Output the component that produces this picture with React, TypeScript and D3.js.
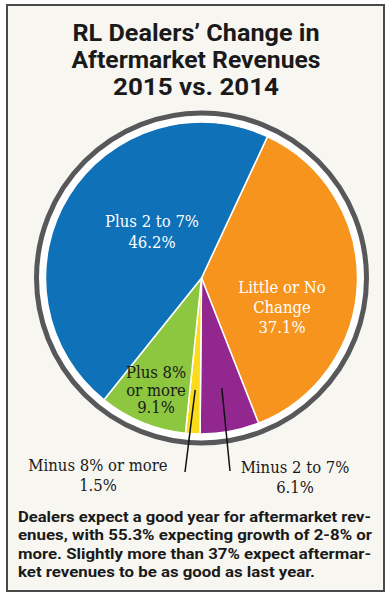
import React from "react";
import * as d3 from "d3";

const categories = ["Little or No Change", "Minus 2 to 7%", "Minus 8% or more", "Plus 8% or more", "Plus 2 to 7%"];
const values = [37.1, 6.1, 1.5, 9.1, 46.2];
const colors = ["#f7941d", "#92278f", "#fbdc1c", "#8dc63f", "#0f71b8"];
const labelNameLines = [["Little or No", "Change"], ["Minus 2 to 7%"], ["Minus 8% or more"], ["Plus 8%", "or more"], ["Plus 2 to 7%"]];
const titleLines = ["RL Dealers\u2019 Change in", "Aftermarket Revenues", "2015 vs. 2014"];
const captionLines = [
  "Dealers expect a good year for aftermarket rev-",
  "enues, with 55.3% expecting growth of 2-8% or",
  "more. Slightly more than 37% expect aftermar-",
  "ket revenues to be as good as last year.",
];

const W = 390;
const H = 600;
const cx = 201.5;
const cy = 278;
const R = 156;

// layout per slice (label anchor, line height, text colour, outside leader)
const labelLayout = [
  { x: 282, y: 293, lh: 20, fill: "#ffffff", leader: null },
  { x: 295, y: 473, lh: 20, fill: "#1a1a1a", leader: { x: 230, y: 471 } },
  { x: 98, y: 471, lh: 20, fill: "#1a1a1a", leader: { x: 185, y: 472 } },
  { x: 156, y: 378, lh: 17.5, fill: "#1a1a1a", leader: null },
  { x: 152, y: 227, lh: 21, fill: "#ffffff", leader: null },
];

const titleWidths = [247, 249, 166];
const captionWidths = [353, 354, 353, 297];

export default function App() {
  const pie = d3
    .pie<number>()
    .sort(null)
    .value((d) => d)
    .startAngle((25 * Math.PI) / 180)
    .endAngle((385 * Math.PI) / 180);
  const arcs = pie(values);
  const arc = d3.arc<d3.PieArcDatum<number>>().innerRadius(0).outerRadius(R);
  const serif = "'DejaVu Serif Condensed', 'DejaVu Serif', serif";
  const sans = "Roboto, 'Liberation Sans', sans-serif";

  return (
    <div style={{ position: "absolute", left: 0, top: 0 }}>
      <svg width={W} height={H} style={{ display: "block" }}>
        <rect x={0} y={0} width={W} height={H} fill="#ffffff" />
        <rect x={7} y={5} width={377} height={586} fill="#f7f6f1" stroke="#4a4a4a" strokeWidth={2} />
        {titleLines.map((t, i) => (
          <text
            key={i}
            x={196}
            y={41 + i * 27}
            textAnchor="middle"
            fontFamily={sans}
            fontWeight={700}
            fontSize={24.5}
            fill="#1a1a1a"
            textLength={titleWidths[i]}
            lengthAdjust="spacingAndGlyphs"
          >
            {t}
          </text>
        ))}
        <circle cx={cx} cy={cy} r={165} fill="#ffffff" stroke="#58585a" strokeWidth={5} />
        <g transform={`translate(${cx},${cy})`}>
          {arcs.map((a, i) => (
            <path key={i} d={arc(a) || ""} fill={colors[i]} stroke="#ffffff" strokeWidth={1.5} strokeLinejoin="round" />
          ))}
        </g>
        {arcs.map((a, i) => {
          const L = labelLayout[i];
          if (!L.leader) return null;
          const mid = (a.startAngle + a.endAngle) / 2;
          const r0 = 112;
          return (
            <line
              key={"l" + i}
              x1={cx + r0 * Math.sin(mid)}
              y1={cy - r0 * Math.cos(mid)}
              x2={L.leader.x}
              y2={L.leader.y}
              stroke="#111"
              strokeWidth={1.5}
            />
          );
        })}
        {arcs.map((a, i) => {
          const L = labelLayout[i];
          const lines = [...labelNameLines[i], `${values[i].toFixed(1)}%`];
          return (
            <text key={"t" + i} textAnchor="middle" fontFamily={serif} fontSize={16.5} fill={L.fill}>
              {lines.map((s, j) => (
                <tspan key={j} x={L.x} y={L.y + j * L.lh}>
                  {s}
                </tspan>
              ))}
            </text>
          );
        })}
        {captionLines.map((t, i) => (
          <text
            key={"c" + i}
            x={18}
            y={522 + i * 18.3}
            fontFamily={sans}
            fontWeight={700}
            fontSize={15}
            fill="#1a1a1a"
            textLength={captionWidths[i]}
            lengthAdjust="spacingAndGlyphs"
          >
            {t}
          </text>
        ))}
      </svg>
    </div>
  );
}
